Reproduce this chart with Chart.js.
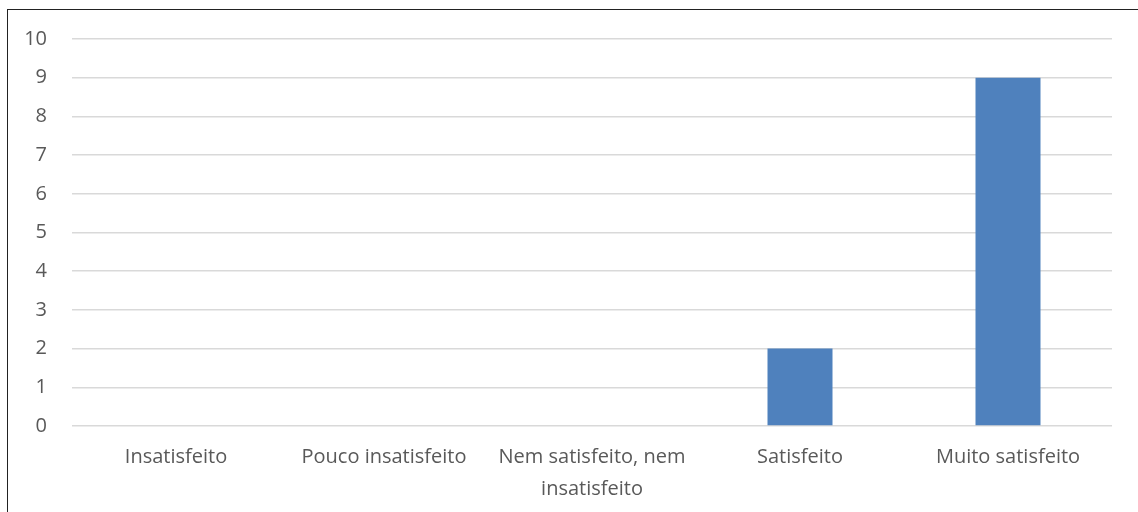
<!DOCTYPE html>
<html><head><meta charset="utf-8">
<script src="https://cdn.jsdelivr.net/npm/chart.js@4"></script>
<style>
html,body{margin:0;padding:0;background:#fff;width:1138px;height:512px;overflow:hidden;}
#frame{position:absolute;left:7px;top:9px;width:1200px;height:600px;border:1px solid #222;box-sizing:border-box;}
#wrap{position:absolute;left:0;top:0;width:1138px;height:512px;}
</style></head><body>
<div id="frame"></div>
<div id="wrap"><canvas id="c" width="1138" height="512"></canvas></div>
<script>
const categories = ["Insatisfeito","Pouco insatisfeito",["Nem satisfeito, nem","insatisfeito"],"Satisfeito","Muito satisfeito"];
const values = [0,0,0,2,9];
const yMin = 0, yMax = 10, yStep = 1;

new Chart(document.getElementById('c'), {
  type: 'bar',
  data: { labels: categories, datasets: [{ data: values, backgroundColor: '#4f81bd', barPercentage: 0.3125, categoryPercentage: 1 }] },
  options: {
    responsive: false, animation: false,
    layout: { padding: { top: 39, right: 26, left: 0, bottom: 0 } },
    plugins: { legend: { display: false }, tooltip: { enabled: false } },
    scales: {
      x: {
        grid: { display: false, drawTicks: false },
        border: { display: false },
        ticks: { color: '#595959', font: { family: 'Open Sans', size: 20, lineHeight: 1.6 }, padding: 15, maxRotation: 0, autoSkip: false },
        afterFit: s => { s.height = 86; }
      },
      y: {
        min: yMin, max: yMax,
        grid: { color: '#d9d9d9', lineWidth: 1.5, drawTicks: false },
        border: { display: false },
        ticks: { stepSize: yStep, color: '#595959', font: { family: 'Open Sans', size: 20 }, padding: 25 },
        afterFit: s => { s.width = 72; }
      }
    }
  }
});
</script></body></html>
